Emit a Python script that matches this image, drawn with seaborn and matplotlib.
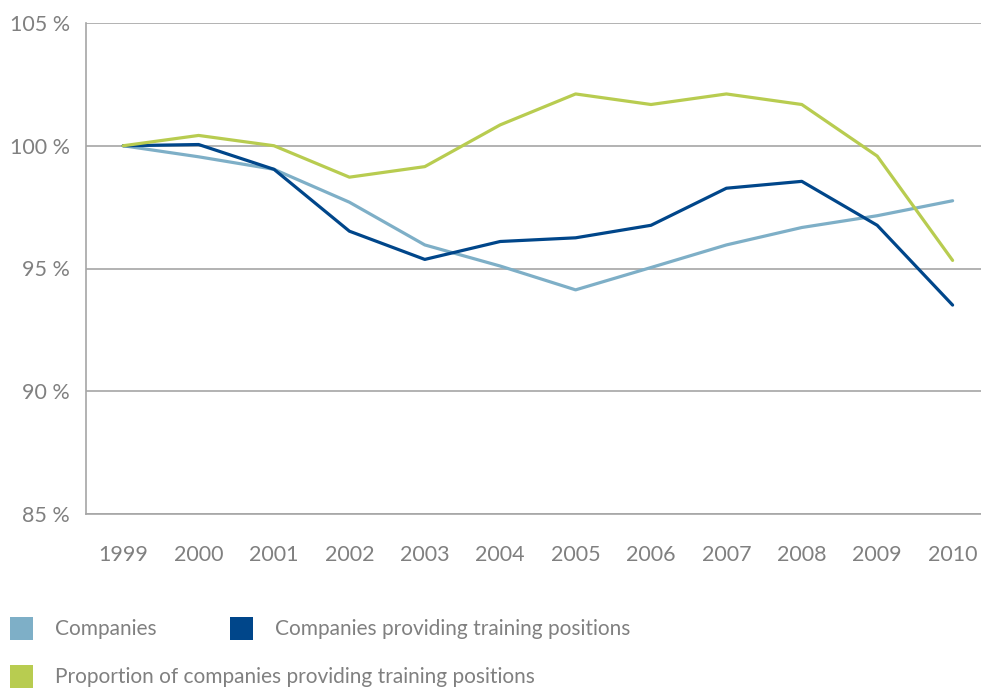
import matplotlib
matplotlib.use("Agg")
import matplotlib.pyplot as plt
from matplotlib.patches import Rectangle
from matplotlib.ticker import FixedLocator, FuncFormatter
import seaborn as sns
import pandas as pd

years = [1999, 2000, 2001, 2002, 2003, 2004, 2005, 2006, 2007, 2008, 2009, 2010]
companies = [100.0, 99.55, 99.04, 97.70, 95.96, 95.10, 94.13, 95.04, 95.96, 96.67, 97.15, 97.76]
companies_training = [100.0, 100.05, 99.04, 96.52, 95.37, 96.10, 96.25, 96.76, 98.27, 98.55, 96.76, 93.51]
proportion_training = [100.0, 100.42, 100.0, 98.72, 99.15, 100.85, 102.11, 101.68, 102.11, 101.68, 99.58, 95.33]
series_names = ["Companies", "Companies providing training positions",
                "Proportion of companies providing training positions"]
y_ticks = [85, 90, 95, 100, 105]

colors = ["#7eafc7", "#00468a", "#b8cc50"]
text_color = "#808080"
grid_color = "#a6a6a6"

df = pd.DataFrame({
    "year": years * 3,
    "value": companies + companies_training + proportion_training,
    "series": [series_names[0]] * len(years) + [series_names[1]] * len(years)
              + [series_names[2]] * len(years),
})

sns.set_theme(style="white")
plt.rcParams["font.family"] = ["Lato", "DejaVu Sans"]

W, H = 981, 690
fig = plt.figure(figsize=(W / 100, H / 100), dpi=100)
ax_left, ax_right, ax_top, ax_bottom = 85.5, 981, 23, 514
ax = fig.add_axes([ax_left / W, 1 - ax_bottom / H, (ax_right - ax_left) / W, (ax_bottom - ax_top) / H])

sns.lineplot(data=df, x="year", y="value", hue="series", palette=colors,
             hue_order=series_names, linewidth=2.3, ax=ax, legend=False, sort=False)

step = 75.4
ax.set_xlim(1998.5, 1998.5 + (ax_right - ax_left) / step)
ax.set_ylim(85, 105)

ax.yaxis.set_major_locator(FixedLocator(y_ticks))
ax.yaxis.set_major_formatter(FuncFormatter(lambda v, p: f"{int(v)} %"))
ax.xaxis.set_major_locator(FixedLocator(years))
ax.xaxis.set_major_formatter(FuncFormatter(lambda v, p: f"{int(v)}"))
ax.xaxis.set_minor_locator(FixedLocator([y + 0.5 for y in years]))

ax.grid(axis="y", color=grid_color, linewidth=1.2)
ax.grid(axis="x", visible=False)
ax.set_axisbelow(True)

for side in ["top", "right"]:
    ax.spines[side].set_visible(False)
for side in ["left", "bottom"]:
    ax.spines[side].set_visible(True)
    ax.spines[side].set_color(grid_color)
    ax.spines[side].set_linewidth(1.2)

ax.tick_params(axis="y", which="both", length=0, pad=11, labelsize=15.5, labelcolor=text_color)
ax.tick_params(axis="x", which="major", length=0, pad=22, labelsize=15.5, labelcolor=text_color)
ax.tick_params(axis="x", which="minor", length=8.5, width=1.2, color=grid_color, direction="in")
ax.set_xlabel("")
ax.set_ylabel("")

# legend (manual, pixel-placed)
legend_items = [(10, 617, 55), (230, 617, 275), (10, 665, 55)]
for (sx, sy, tx), name, c in zip(legend_items, series_names, colors):
    fig.add_artist(Rectangle((sx / W, 1 - (sy + 23) / H), 23 / W, 23 / H,
                             transform=fig.transFigure, facecolor=c, edgecolor="none"))
    fig.text(tx / W, 1 - (sy + 12) / H, name, fontsize=15, color=text_color,
             ha="left", va="center")

fig.savefig("out.png", dpi=100)
